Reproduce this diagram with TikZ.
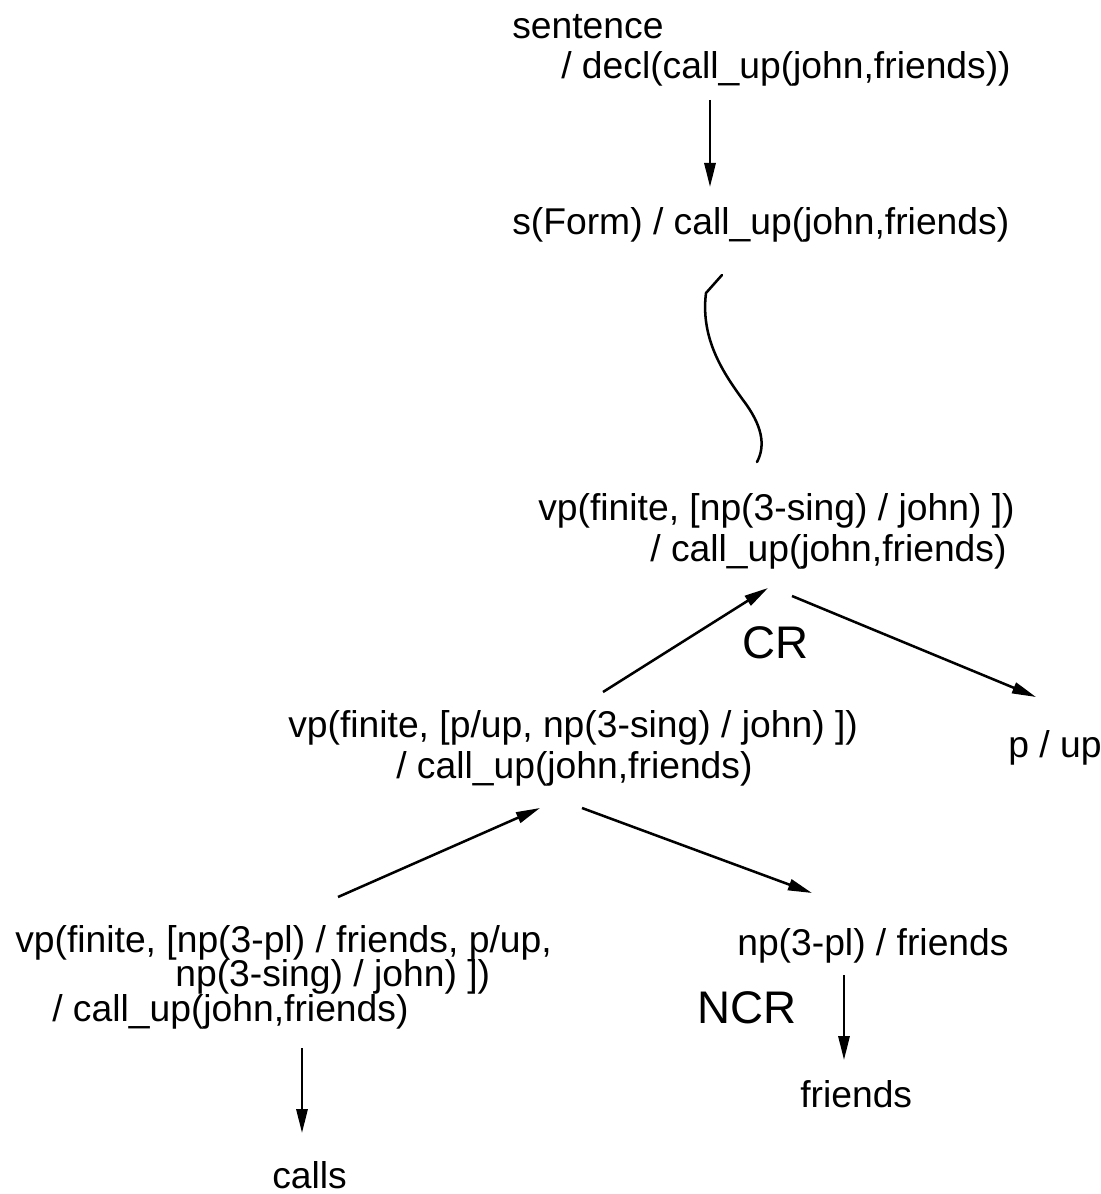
\documentclass[tikz,border=0pt]{standalone}
\usepackage{fontspec}
\setmainfont{Liberation Sans}
\usetikzlibrary{arrows.meta,calc}

\begin{document}
\begin{tikzpicture}[x=0.025cm,y=-0.025cm,
    every node/.style={inner sep=0pt,anchor=base west,align=left,font=\fontsize{26.5}{28.5}\selectfont},
    rulename/.style={font=\fontsize{32.5}{34}\selectfont},
    arr/.style={-{Triangle[length=6mm,width=2.8mm]},line width=1.8pt},
    wig/.style={line width=1.8pt,line cap=round,line join=round}]
  \useasboundingbox (0,0) rectangle (1100,1194);
  % goals, top to bottom (base = last line)
  \node (sent) at (512,79) {sentence\\\hspace*{1.225cm}/ decl(call\_up(john,friends))};
  \node (sform) at (512,235) {s(Form) / call\_up(john,friends)};
  \node (vpa) at (538,561) {vp(finite, [np(3-sing) / john) ])\\\hspace*{2.8cm}/ call\_up(john,friends)};
  \node (vpb) at (288,778) {vp(finite, [p/up, np(3-sing) / john) ])\\\hspace*{2.7cm}/ call\_up(john,friends)};
  \node (pup) at (1008,757) {p / up};
  \node (vpc) at (15,1021) {vp(finite, [np(3-pl) / friends, p/up,\\[-4.1pt]\hspace*{4cm}np(3-sing) / john) ])\\[-4.1pt]\hspace*{0.925cm}/ call\_up(john,friends)};
  \node (npf) at (737,955) {np(3-pl) / friends};
  \node (calls) at (272,1188) {calls};
  \node (fr) at (800,1107) {friends};
  \node[rulename] (cr) at (742,658) {CR};
  \node[rulename] (ncr) at (697,1023) {NCR};
  % connectors
  \draw[arr] ($(sent.base west)+(198,21)$) -- ($(sform.base west)+(198,-48)$);
  \draw[wig] ($(sform.base west)+(210,40)$) -- ++(-16,18)
    .. controls +(-6,47) and +(-18,-25) .. ++(37,107)
    .. controls +(19,25) and +(9,-17) .. ($(vpa.base west)+(219,-99)$);
  \draw[arr] ($(vpb.base west)+(315,-86)$) -- ($(vpa.base west)+(230,27)$);
  \draw[arr] ($(vpa.base west)+(254,35)$) -- ($(pup.base west)+(28,-60)$);
  \draw[arr] ($(vpc.base west)+(323,-124)$) -- ($(vpb.base west)+(252,30)$);
  \draw[arr] ($(vpb.base west)+(294,30)$) -- ($(npf.base west)+(75,-62)$);
  \draw[arr] ($(vpc.base west)+(287,27)$) -- ($(calls.base west)+(30,-55)$);
  \draw[arr] ($(npf.base west)+(107,20)$) -- ($(fr.base west)+(44,-47)$);
\end{tikzpicture}
\end{document}
